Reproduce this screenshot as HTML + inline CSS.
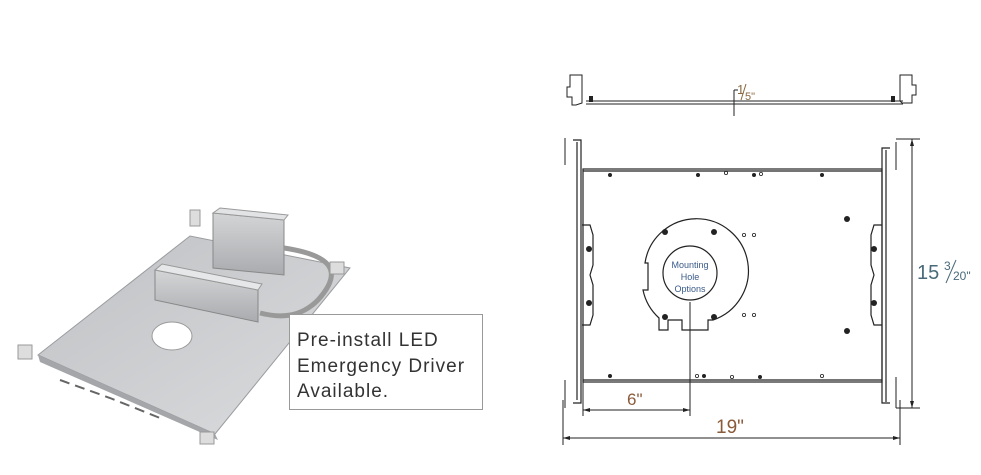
<!DOCTYPE html>
<html><head><meta charset="utf-8"><style>
html,body{margin:0;padding:0;background:#fff;width:981px;height:475px;overflow:hidden}
svg{display:block}
</style></head><body>
<svg width="981" height="475" viewBox="0 0 981 475" xmlns="http://www.w3.org/2000/svg" font-family="Liberation Sans, sans-serif">
<defs>
<linearGradient id="pl" x1="0" y1="0" x2="1" y2="1"><stop offset="0" stop-color="#bfc1c4"/><stop offset="1" stop-color="#dadcde"/></linearGradient>
<linearGradient id="bx" x1="0" y1="0" x2="0" y2="1"><stop offset="0" stop-color="#d4d5d7"/><stop offset="1" stop-color="#a9abae"/></linearGradient>
</defs>
<!-- photo -->
<polygon points="38,355 190,236 350,268 215,434" fill="url(#pl)" stroke="#9a9c9f" stroke-width="1"/>
<polygon points="38,355 215,434 218,440 40,362" fill="#a4a6a9"/>
<polyline points="60,380 110,398 160,418" stroke="#666" stroke-width="2" fill="none" stroke-dasharray="10,6"/>
<ellipse cx="172" cy="336" rx="20" ry="14" fill="#fff" stroke="#999"/>
<polygon points="213,213 284,220 284,275 213,268" fill="url(#bx)" stroke="#888"/>
<polygon points="213,213 284,220 288,215 220,208" fill="#e2e3e5" stroke="#999"/>
<polygon points="155,270 258,290 258,322 155,300" fill="url(#bx)" stroke="#888"/>
<polygon points="155,270 258,290 262,284 162,264" fill="#e6e7e8" stroke="#999"/>
<path d="M284,248 C330,255 345,270 318,300 C300,318 280,318 260,313" stroke="#999" stroke-width="5" fill="none"/>
<g fill="#ddd" stroke="#999">
<rect x="18" y="345" width="14" height="14"/><rect x="190" y="210" width="10" height="16"/><rect x="330" y="262" width="14" height="12"/><rect x="200" y="432" width="14" height="12"/>
</g>
<rect x="289.5" y="314.5" width="193" height="95" fill="#fff" stroke="#999"/>
<g font-size="19" fill="#333" letter-spacing="1">
<text x="297" y="346">Pre-install LED</text>
<text x="297" y="372">Emergency Driver</text>
<text x="297" y="397">Available.</text>
</g>
<!-- side view -->
<g stroke="#222" fill="none" stroke-width="1">
<line x1="586" y1="101" x2="903" y2="101"/><line x1="586" y1="104" x2="903" y2="104"/>
<path d="M570,75 h12 v28 l-6,2 h-4 v-8 h-5 v-10 h3 z"/>
<path d="M900,75 h12 v10 h4 v10 h-4 v8 h-10 l-2,-2 z"/>
<line x1="734" y1="90" x2="734" y2="116"/><line x1="734" y1="90" x2="738" y2="90"/>
</g>
<rect x="589" y="96" width="4" height="6" fill="#222"/><rect x="891" y="96" width="4" height="6" fill="#222"/>
<text x="737" y="94" font-size="13" fill="#8a6a40">1</text>
<line x1="746" y1="84" x2="741" y2="100" stroke="#8a6a40"/>
<text x="745" y="100" font-size="11" fill="#8a6a40">5"</text>
<!-- plan view -->
<g stroke="#222" fill="none" stroke-width="1.2">
<rect x="583" y="169" width="299" height="213"/>
<line x1="583" y1="171" x2="882" y2="171"/><line x1="583" y1="380" x2="882" y2="380"/>
<path d="M573,140 h8 v263 h-8"/><line x1="577" y1="142" x2="577" y2="400"/>
<path d="M890,148 h-8 v255 h8"/><line x1="886" y1="150" x2="886" y2="402"/>
<path d="M582,225 h8 l3,10 v30 l-3,10 v-0 l3,10 v30 l-3,10 h-8"/>
<path d="M882,225 h-8 l-3,10 v30 l3,10 l-3,10 v30 l3,10 h8"/>
<path d="M645,263 A52,52 0 1 1 713,320 h-5 v10 h-26 v-10 h-14 v10 h-9 v-12 A52,52 0 0 1 643,290 h5 v-27 z"/>
<circle cx="690" cy="273" r="27"/>
</g>
<g stroke="#222" fill="none">
<line x1="565" y1="138" x2="565" y2="165"/><line x1="565" y1="380" x2="565" y2="408"/>
<line x1="896" y1="142" x2="896" y2="170"/><line x1="896" y1="377" x2="896" y2="408"/>
</g>
<g fill="#222">
<circle cx="610" cy="175" r="2"/><circle cx="698" cy="175" r="2"/><circle cx="754" cy="175" r="2"/><circle cx="822" cy="175" r="2"/>
<circle cx="847" cy="219" r="3"/><circle cx="847" cy="331" r="3"/>
<circle cx="665" cy="232" r="3"/><circle cx="714" cy="232" r="3"/><circle cx="665" cy="317" r="3"/><circle cx="714" cy="317" r="3"/>
<circle cx="610" cy="376" r="2"/><circle cx="704" cy="376" r="2"/><circle cx="760" cy="377" r="2"/>
<circle cx="589" cy="249" r="3"/><circle cx="589" cy="303" r="3"/><circle cx="874" cy="249" r="3"/><circle cx="874" cy="303" r="3"/>
</g>
<g fill="none" stroke="#222" stroke-width="0.8">
<circle cx="726" cy="173" r="1.6"/><circle cx="761" cy="174" r="1.6"/><circle cx="744" cy="235" r="1.6"/><circle cx="754" cy="235" r="1.6"/><circle cx="744" cy="315" r="1.6"/><circle cx="754" cy="315" r="1.6"/><circle cx="697" cy="376" r="1.6"/><circle cx="732" cy="377" r="1.6"/><circle cx="822" cy="376" r="1.6"/>
</g>
<text x="690" y="268" font-size="9" fill="#3a5a8a" text-anchor="middle">Mounting</text>
<text x="690" y="280" font-size="9" fill="#3a5a8a" text-anchor="middle">Hole</text>
<text x="690" y="292" font-size="9" fill="#3a5a8a" text-anchor="middle">Options</text>
<!-- dims -->
<g stroke="#222" fill="none" stroke-width="1">
<line x1="690" y1="302" x2="690" y2="416"/>
<line x1="583" y1="382" x2="583" y2="416"/>
<line x1="583" y1="410" x2="690" y2="410"/>
<line x1="563" y1="400" x2="563" y2="445"/><line x1="900" y1="400" x2="900" y2="445"/>
<line x1="563" y1="438" x2="900" y2="438"/>
<line x1="896" y1="139" x2="920" y2="139"/><line x1="896" y1="408" x2="920" y2="408"/>
<line x1="912" y1="139" x2="912" y2="408"/>
</g>
<g fill="#222">
<polygon points="583,410 590,408 590,412"/><polygon points="690,410 683,408 683,412"/>
<polygon points="563,438 570,436 570,440"/><polygon points="900,438 893,436 893,440"/>
<polygon points="912,139 910,146 914,146"/><polygon points="912,408 910,401 914,401"/>
</g>
<text x="627" y="405" font-size="17" fill="#8a5a3a">6"</text>
<text x="716" y="433" font-size="19" fill="#8a5a3a">19"</text>
<text x="917" y="279" font-size="20" fill="#4a6a7a">15</text>
<text x="944" y="270" font-size="12" fill="#4a6a7a">3</text>
<line x1="956" y1="260" x2="946" y2="283" stroke="#4a6a7a"/>
<text x="953" y="280" font-size="12" fill="#4a6a7a">20"</text>
</svg>
</body></html>
